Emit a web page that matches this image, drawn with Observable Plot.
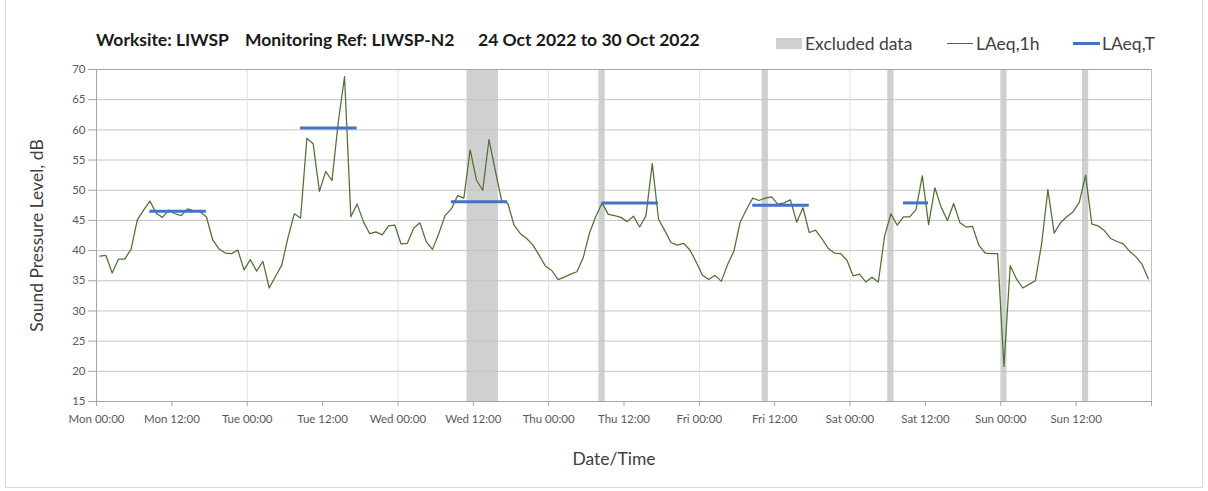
<!DOCTYPE html>
<html>
<head>
<meta charset="utf-8">
<script src="https://cdn.jsdelivr.net/npm/d3@7"></script>
<script src="https://cdn.jsdelivr.net/npm/@observablehq/plot@0.6"></script>
<style>
  html, body { margin: 0; padding: 0; background: #fff; }
  #page { position: relative; width: 1208px; height: 491px; font-family: Lato, "Open Sans", sans-serif; overflow: hidden; }
  #border { position: absolute; left: 5px; top: -2px; width: 1198px; height: 490px; border: 1px solid #d9d9d9; box-sizing: border-box; }
  .title { position: absolute; top: 30px; font-weight: bold; font-size: 17.5px; color: #1a1a1a; white-space: nowrap; line-height: 20px; }
  .leg { position: absolute; top: 34px; font-size: 17.5px; color: #404040; white-space: nowrap; line-height: 20px; }
  .sw { position: absolute; }
  #plot { position: absolute; left: 0; top: 60px; }
  #plot svg g[aria-label="x-axis tick"], #plot svg g[aria-label="y-axis tick"] { stroke: #a6a6a6; }
  #plot svg g[aria-label="x-axis tick label"], #plot svg g[aria-label="y-axis tick label"] { fill: #595959; }
  #plot svg g[aria-label="y-axis label"] { fill: #404040; font-size: 17.5px; }
</style>
</head>
<body>
<div id="page">
  <div id="border"></div>
  <div class="title" style="left:96px">Worksite: LIWSP</div>
  <div class="title" style="left:245px">Monitoring Ref: LIWSP-N2</div>
  <div class="title" style="left:478px">24 Oct 2022 to 30 Oct 2022</div>
  <div class="sw" style="left:776px;top:38px;width:26px;height:11px;background:#d0d0d0"></div>
  <div class="leg" style="left:805px">Excluded data</div>
  <div class="sw" style="left:947px;top:43px;width:26px;height:1.3px;background:#4f7132"></div>
  <div class="leg" style="left:976px">LAeq,1h</div>
  <div class="sw" style="left:1073px;top:42px;width:27px;height:3px;background:#4472c4"></div>
  <div class="leg" style="left:1102px">LAeq,T</div>
  <div id="plot"></div>
</div>
<script>
// Hourly LAeq,1h values, Mon 24 Oct 2022 00:00 onward (hour index 0..167)
const laeq1h = [
  39.1, 39.2, 36.3, 38.6, 38.6, 40.2, 45.1, 46.7, 48.2, 46.2, 45.5, 46.7, 46.1, 45.8, 46.9, 46.6, 46.4, 45.6, 41.8, 40.3, 39.6, 39.5, 40.1, 36.8,
  38.5, 36.6, 38.2, 33.8, 35.7, 37.6, 42.2, 46.1, 45.4, 58.6, 57.7, 49.8, 53.1, 51.6, 61.3, 68.8, 45.6, 47.7, 44.8, 42.8, 43.1, 42.6, 44.1, 44.2,
  41.1, 41.2, 43.7, 44.6, 41.5, 40.2, 42.8, 45.8, 46.9, 49.1, 48.7, 56.7, 51.7, 50.0, 58.4, 53.3, 48.3, 47.8, 44.2, 42.8, 42.0, 40.9, 39.2, 37.4,
  36.7, 35.2, 35.6, 36.1, 36.5, 38.8, 42.9, 45.6, 47.9, 46.0, 45.8, 45.5, 44.8, 45.7, 43.9, 45.8, 54.4, 45.2, 43.3, 41.3, 40.9, 41.2, 40.1, 38.1,
  35.9, 35.2, 35.9, 34.9, 37.7, 39.9, 44.7, 46.8, 48.7, 48.3, 48.7, 48.9, 47.7, 47.9, 48.4, 44.7, 47.1, 43.0, 43.4, 42.0, 40.4, 39.6, 39.5, 38.4,
  35.8, 36.1, 34.8, 35.6, 34.8, 42.4, 46.1, 44.2, 45.6, 45.6, 46.8, 52.4, 44.3, 50.4, 47.2, 45.0, 47.8, 44.6, 43.9, 44.0, 40.9, 39.6, 39.5, 39.5,
  20.8, 37.5, 35.3, 33.8, 34.4, 35.0, 41.1, 50.1, 42.9, 44.6, 45.6, 46.4, 48.0, 52.5, 44.4, 44.1, 43.3, 42.0, 41.5, 41.1, 39.9, 39.0, 37.7, 35.3
];
// LAeq,T periods: first and last hour index covered, and level
const periodFrom = [8, 32, 56, 80, 104, 128];
const periodTo = [17, 41, 65, 89, 113, 132];
const periodLevel = [46.5, 60.3, 48.1, 47.9, 47.5, 47.9];
// Excluded data periods (hour of week start/end)
const excludedFrom = [59, 80, 106, 126, 144, 157];
const excludedTo = [64, 81, 107, 127, 145, 158];
// Axis ticks
const xTickHours = [0, 12, 24, 36, 48, 60, 72, 84, 96, 108, 120, 132, 144, 156, 168];
const xTickLabels = ["Mon 00:00", "Mon 12:00", "Tue 00:00", "Tue 12:00", "Wed 00:00", "Wed 12:00", "Thu 00:00", "Thu 12:00", "Fri 00:00", "Fri 12:00", "Sat 00:00", "Sat 12:00", "Sun 00:00", "Sun 12:00", ""];
const dayHours = [24, 48, 72, 96, 120, 144];
const yTicks = [15, 20, 25, 30, 35, 40, 45, 50, 55, 60, 65, 70];
const xTitle = "Date/Time";
const yTitle = "Sound Pressure Level, dB";

const hourly = laeq1h.map((v, i) => ({hour: i + 0.5, level: v}));
const periods = periodFrom.map((f, i) => ({x1: f + 0.5, x2: periodTo[i] + 0.5, level: periodLevel[i]}));
const excluded = excludedFrom.map((f, i) => ({x1: f, x2: excludedTo[i]}));
const labelOf = new Map(xTickHours.map((h, i) => [h, xTickLabels[i]]));

const chart = Plot.plot({
  width: 1208,
  height: 431,
  marginTop: 9,
  marginLeft: 96,
  marginRight: 57,
  marginBottom: 90,
  style: {fontFamily: "Lato, 'Open Sans', sans-serif", fontSize: "11.5px", background: "transparent", color: "#595959"},
  x: {domain: [0, 168]},
  y: {domain: [15, 70]},
  marks: [
    Plot.rect(excluded, {x1: "x1", x2: "x2", fill: "#d0d0d0"}),
    Plot.ruleY(yTicks.slice(1, -1), {stroke: "#c4c4c4", strokeWidth: 1}),
    Plot.ruleX(dayHours, {stroke: "#e0e0e0", strokeWidth: 1}),
    Plot.ruleY([70], {stroke: "#a6a6a6"}),
    Plot.ruleX([168], {stroke: "#bfbfbf"}),
    Plot.line(hourly, {x: "hour", y: "level", stroke: "#4f7132", strokeWidth: 1.25}),
    Plot.ruleY(periods, {x1: "x1", x2: "x2", y: "level", stroke: "#4472c4", strokeWidth: 3}),
    Plot.axisY({ticks: yTicks, tickSize: 8, tickPadding: 3, tickFormat: d => String(d),
      label: yTitle, labelAnchor: "center", labelOffset: 66, labelArrow: "none"}),
    Plot.axisX({ticks: xTickHours, tickSize: 5, tickPadding: 8, tickFormat: d => labelOf.get(d) ?? "", label: null}),
    Plot.text([xTitle], {frameAnchor: "bottom", dx: -10, dy: 63, fontSize: 17.5, fill: "#404040"}),
    Plot.ruleY([15], {stroke: "#a6a6a6"}),
    Plot.ruleX([0], {stroke: "#a6a6a6"})
  ]
});
document.getElementById("plot").appendChild(chart);
</script>
</body>
</html>
